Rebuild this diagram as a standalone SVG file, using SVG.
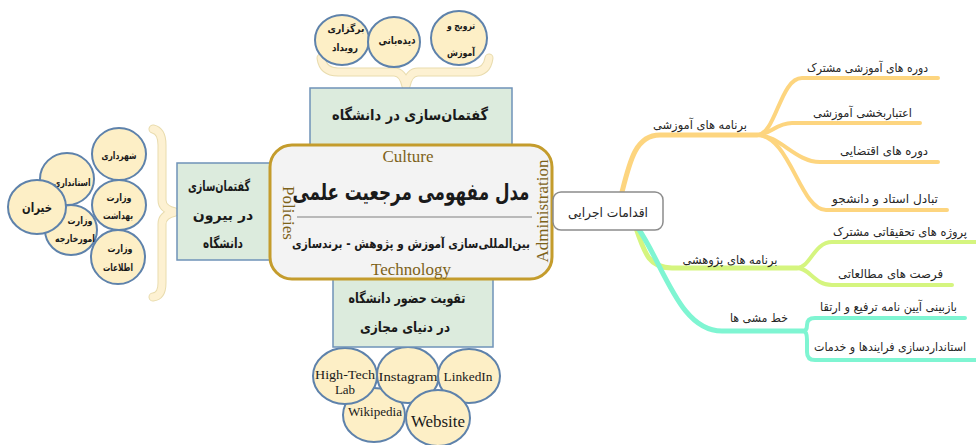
<svg xmlns="http://www.w3.org/2000/svg" width="976" height="445" viewBox="0 0 976 445">
<style>
.bg{fill:#ffffff}
.circ{fill:#fdefc6;stroke:#5e82ab;stroke-width:2}
.gbox{fill:#dcebdd;stroke:#6f93b8;stroke-width:1.5}
.fa{font-family:"DejaVu Sans",sans-serif;fill:#262626}
.fab{font-family:"DejaVu Sans",sans-serif;font-weight:bold;fill:#1a1a1a}
.en{font-family:"Liberation Serif","DejaVu Serif",serif;fill:#1a1a1a}
.gold{font-family:"Liberation Serif","DejaVu Serif",serif;fill:#7d6219;font-size:17px}
.brace1{fill:none;stroke:#e9dcae;stroke-width:9;stroke-linejoin:round;stroke-linecap:round}
.brace2{fill:none;stroke:#fdf1d2;stroke-width:7;stroke-linejoin:round;stroke-linecap:round}
.br{fill:none;stroke-linecap:round;stroke-linejoin:round}
.or{stroke:#fdd57f}
.gr{stroke:#d5f57f}
.te{stroke:#7ff5d2}
</style>
<rect class="bg" x="0" y="0" width="976" height="445"/>

<g id="connectors">
  <!-- orange -->
  <path class="br or" stroke-width="5" d="M622,192 C630,160 636,135 660,135 L757,135"/>
  <path class="br or" stroke-width="4" d="M757,135 C776,135 780,78 802,78 L938,78"/>
  <path class="br or" stroke-width="4" d="M757,135 C770,135 776,123 792,123 L920,123"/>
  <path class="br or" stroke-width="4" d="M757,135 C780,135 795,162 820,162 L938,162"/>
  <path class="br or" stroke-width="4" d="M757,135 C790,135 800,210 826,210 L947,210"/>
  <!-- green -->
  <path class="br gr" stroke-width="5" d="M636,228 C645,255 650,268 672,268 L797,268"/>
  <path class="br gr" stroke-width="4" d="M797,268 C810,268 814,242 832,242 L976,242"/>
  <path class="br gr" stroke-width="4" d="M797,268 C810,268 814,285 832,285 L952,285"/>
  <!-- teal -->
  <path class="br te" stroke-width="5" d="M638,228 C665,268 680,331 722,331 L803,331"/>
  <path class="br te" stroke-width="4" d="M803,331 Q807,331 807,325 Q807,318 815,318 L965,318"/>
  <path class="br te" stroke-width="4" d="M803,331 Q807,331 807,340 L807,352 Q807,360 815,360 L976,360"/>
  <!-- braces -->
  <path class="brace1" d="M321,58 Q323,72 338,72 L394,72 Q403,72 406,86 Q409,72 418,72 L474,72 Q487,72 489,58"/>
  <path class="brace2" d="M321,58 Q323,72 338,72 L394,72 Q403,72 406,86 Q409,72 418,72 L474,72 Q487,72 489,58"/>
  <path class="brace1" d="M153,129 Q162,131 162,145 L162,200 Q162,209 175,212 Q162,215 162,224 L162,283 Q162,296 153,297"/>
  <path class="brace2" d="M153,129 Q162,131 162,145 L162,200 Q162,209 175,212 Q162,215 162,224 L162,283 Q162,296 153,297"/>
</g>

<g id="top-circles">
  <g id="c-bargozari"><ellipse class="circ" cx="342" cy="40" rx="27" ry="25"/>
    <text class="fab" x="346" y="32" font-size="10" text-anchor="middle" textLength="37" lengthAdjust="spacingAndGlyphs">برگزاری</text>
    <text class="fab" x="345" y="51" font-size="10" text-anchor="middle" textLength="26" lengthAdjust="spacingAndGlyphs">رویداد</text></g>
  <g id="c-tarvij"><ellipse class="circ" cx="459" cy="38" rx="28" ry="27"/>
    <text class="fab" x="461" y="29" font-size="10" text-anchor="middle" textLength="28" lengthAdjust="spacingAndGlyphs">ترویج و</text>
    <text class="fab" x="461" y="56" font-size="10" text-anchor="middle" textLength="28" lengthAdjust="spacingAndGlyphs">آموزش</text></g>
  <g id="c-dideban"><ellipse class="circ" cx="394" cy="42" rx="26" ry="25"/>
    <text class="fab" x="397" y="44" font-size="11" text-anchor="middle" textLength="37" lengthAdjust="spacingAndGlyphs">دیده‌بانی</text></g>
</g>

<g id="left-circles">
  <g id="c-ostandari"><ellipse class="circ" cx="67" cy="179" rx="27" ry="26"/>
    <text class="fab" x="72" y="186" font-size="10" text-anchor="middle" textLength="37" lengthAdjust="spacingAndGlyphs">استانداری</text></g>
  <g id="c-omurkharejeh"><ellipse class="circ" cx="71" cy="230" rx="26" ry="25"/>
    <text class="fab" x="80" y="224" font-size="10" text-anchor="middle" textLength="25" lengthAdjust="spacingAndGlyphs">وزارت</text>
    <text class="fab" x="75" y="242" font-size="10" text-anchor="middle" textLength="40" lengthAdjust="spacingAndGlyphs">امورخارجه</text></g>
  <g id="c-shahrdari"><ellipse class="circ" cx="119" cy="154" rx="27" ry="26"/>
    <text class="fab" x="119" y="159" font-size="10" text-anchor="middle" textLength="35" lengthAdjust="spacingAndGlyphs">شهرداری</text></g>
  <g id="c-behdasht"><ellipse class="circ" cx="119" cy="205" rx="27" ry="25"/>
    <text class="fab" x="119" y="201" font-size="10" text-anchor="middle" textLength="25" lengthAdjust="spacingAndGlyphs">وزارت</text>
    <text class="fab" x="118" y="219" font-size="10" text-anchor="middle" textLength="30" lengthAdjust="spacingAndGlyphs">بهداشت</text></g>
  <g id="c-etelaat"><ellipse class="circ" cx="118" cy="257" rx="27" ry="27"/>
    <text class="fab" x="120" y="252" font-size="10" text-anchor="middle" textLength="25" lengthAdjust="spacingAndGlyphs">وزارت</text>
    <text class="fab" x="118" y="271" font-size="10" text-anchor="middle" textLength="30" lengthAdjust="spacingAndGlyphs">اطلاعات</text></g>
  <g id="c-kheiran"><ellipse class="circ" cx="37" cy="207" rx="29" ry="27"/>
    <text class="fab" x="37" y="212" font-size="13" text-anchor="middle" textLength="30" lengthAdjust="spacingAndGlyphs">خیران</text></g>
</g>

<g id="bottom-circles">
  <g id="c-wikipedia"><ellipse class="circ" cx="374" cy="415" rx="31" ry="27"/>
    <text class="en" x="375" y="416" font-size="13" text-anchor="middle" textLength="54" lengthAdjust="spacingAndGlyphs">Wikipedia</text></g>
  <g id="c-hightech"><ellipse class="circ" cx="345" cy="376" rx="32" ry="28"/>
    <text class="en" x="345" y="379" font-size="13" text-anchor="middle" textLength="60" lengthAdjust="spacingAndGlyphs">High-Tech</text>
    <text class="en" x="345" y="394" font-size="13" text-anchor="middle">Lab</text></g>
  <g id="c-instagram"><ellipse class="circ" cx="408" cy="375" rx="31" ry="28"/>
    <text class="en" x="408" y="381" font-size="13" text-anchor="middle" textLength="59" lengthAdjust="spacingAndGlyphs">Instagram</text></g>
  <g id="c-linkedin"><ellipse class="circ" cx="469" cy="376" rx="31" ry="27"/>
    <text class="en" x="468" y="381" font-size="13" text-anchor="middle" textLength="49" lengthAdjust="spacingAndGlyphs">LinkedIn</text></g>
  <g id="c-website"><ellipse class="circ" cx="438" cy="418" rx="32" ry="28"/>
    <text class="en" x="438" y="427" font-size="17" text-anchor="middle" textLength="54" lengthAdjust="spacingAndGlyphs">Website</text></g>
</g>

<g id="box-top"><rect class="gbox" x="310" y="88" width="202" height="70"/>
  <text class="fab" x="410" y="120" font-size="15" text-anchor="middle" textLength="156" lengthAdjust="spacingAndGlyphs">گفتمان‌سازی در دانشگاه</text></g>
<g id="box-left"><rect class="gbox" x="177" y="163" width="100" height="97"/>
  <text class="fab" x="219" y="191" font-size="14" text-anchor="middle" textLength="62" lengthAdjust="spacingAndGlyphs">گفتمان‌سازی</text>
  <text class="fab" x="223" y="220" font-size="14" text-anchor="middle">در بیرون</text>
  <text class="fab" x="223" y="248" font-size="14" text-anchor="middle" textLength="40" lengthAdjust="spacingAndGlyphs">دانشگاه</text></g>
<g id="box-bottom"><rect class="gbox" x="333" y="270" width="160" height="77"/>
  <text class="fab" x="407" y="303" font-size="14" text-anchor="middle" textLength="117" lengthAdjust="spacingAndGlyphs">تقویت حضور دانشگاه</text>
  <text class="fab" x="405" y="332" font-size="14" text-anchor="middle" textLength="90" lengthAdjust="spacingAndGlyphs">در دنیای مجازی</text></g>

<g id="center">
  <rect x="270" y="145" width="282" height="134" rx="22" fill="#f3f3f3" stroke="#c49c2c" stroke-width="3"/>
  <text class="gold" x="408" y="162" text-anchor="middle">Culture</text>
  <text class="fab" x="411" y="200" font-size="23" text-anchor="middle" textLength="237" lengthAdjust="spacingAndGlyphs">مدل مفهومی مرجعیت علمی</text>
  <line x1="297" y1="217" x2="532" y2="217" stroke="#808080" stroke-width="1.2"/>
  <text class="fab" x="411" y="248" font-size="12.5" text-anchor="middle" textLength="238" lengthAdjust="spacingAndGlyphs">بین‌المللی‌سازی آموزش و پژوهش - برندسازی</text>
  <text class="gold" x="411" y="275" text-anchor="middle">Technology</text>
  <text class="gold" transform="translate(278,213) rotate(90)" text-anchor="middle" dy="-5">Policies</text>
  <text class="gold" transform="translate(543,211) rotate(-90)" text-anchor="middle" dy="5">Administration</text>
</g>

<g id="node-eqdamat"><rect x="553" y="192" width="110" height="38" rx="8" fill="#ffffff" stroke="#8c8c8c" stroke-width="1.5"/>
  <text class="fa" x="608" y="217" font-size="13" text-anchor="middle" textLength="80" lengthAdjust="spacingAndGlyphs">اقدامات اجرایی</text></g>

<g id="labels">
  <g id="n-amoozeshi"><text class="fa" x="700" y="129" font-size="12" text-anchor="middle" textLength="94" lengthAdjust="spacingAndGlyphs">برنامه های آموزشی</text></g>
  <g id="n-d1"><text class="fa" x="928" y="72" font-size="12" text-anchor="end" textLength="121" lengthAdjust="spacingAndGlyphs">دوره های آموزشی مشترک</text></g>
  <g id="n-d2"><text class="fa" x="912" y="117" font-size="12" text-anchor="end" textLength="99" lengthAdjust="spacingAndGlyphs">اعتباربخشی آموزشی</text></g>
  <g id="n-d3"><text class="fa" x="928" y="155" font-size="12" text-anchor="end" textLength="88" lengthAdjust="spacingAndGlyphs">دوره های اقتضایی</text></g>
  <g id="n-d4"><text class="fa" x="938" y="203" font-size="12" text-anchor="end" textLength="106" lengthAdjust="spacingAndGlyphs">تبادل استاد و دانشجو</text></g>
  <g id="n-pajooheshi"><text class="fa" x="730" y="264" font-size="12" text-anchor="middle" textLength="95" lengthAdjust="spacingAndGlyphs">برنامه های پژوهشی</text></g>
  <g id="n-p1"><text class="fa" x="967" y="236" font-size="12" text-anchor="end" textLength="134" lengthAdjust="spacingAndGlyphs">پروژه های تحقیقاتی مشترک</text></g>
  <g id="n-p2"><text class="fa" x="943" y="278" font-size="12" text-anchor="end" textLength="105" lengthAdjust="spacingAndGlyphs">فرصت های مطالعاتی</text></g>
  <g id="n-khatmashi"><text class="fa" x="759" y="322" font-size="12" text-anchor="middle" textLength="58" lengthAdjust="spacingAndGlyphs">خط مشی ها</text></g>
  <g id="n-k1"><text class="fa" x="957" y="311" font-size="12" text-anchor="end" textLength="137" lengthAdjust="spacingAndGlyphs">بازبینی آیین نامه ترفیع و ارتقا</text></g>
  <g id="n-k2"><text class="fa" x="966" y="351" font-size="12" text-anchor="end" textLength="152" lengthAdjust="spacingAndGlyphs">استانداردسازی فرایندها و خدمات</text></g>
</g>
</svg>
